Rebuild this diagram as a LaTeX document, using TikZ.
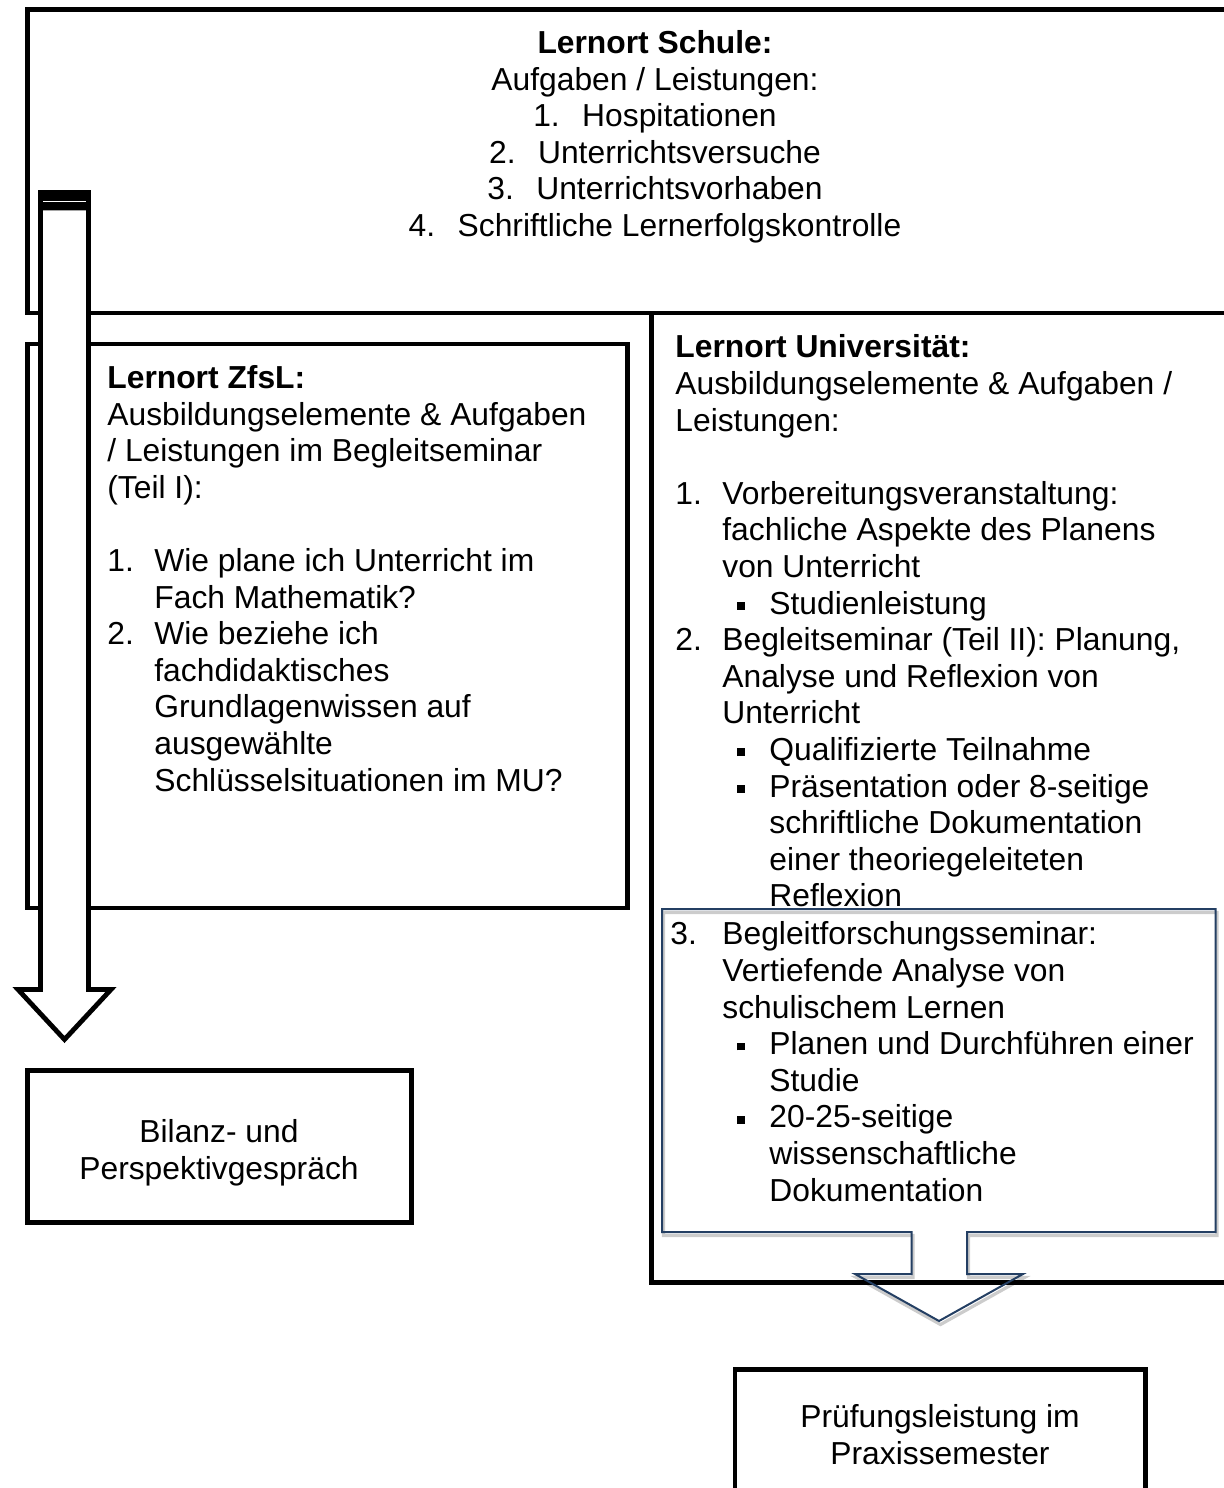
\documentclass[tikz,border=0pt]{standalone}
\usepackage{fontspec}
\setmainfont{Liberation Sans}
\usepackage{tikz}
\usetikzlibrary{arrows}
\definecolor{navy}{RGB}{36,63,99}
\tikzstyle{box} = [draw, line width=2.4pt]
\tikzstyle{blueline} = [draw=navy, line width=1pt]
\tikzstyle{shadowline} = [draw=black!20, line width=1.6pt]
\tikzstyle{txt} = [inner sep=0pt, align=left, anchor=north west]
\newcommand{\topstrut}{\rule{0pt}{12pt}}
\newcommand{\sqbullet}{\rule[2.2pt]{3.9pt}{3.9pt}}
\newcommand{\itemno}[2][23.5pt]{\makebox[#1][l]{#2}}
\newcommand{\itembul}[1][31pt]{\hspace*{#1}\makebox[16pt][l]{\sqbullet}}
\newcommand{\calloutshape}{(662,909) -- (1215.5,909) -- (1215.5,1232) -- (967,1232) -- (967,1274) -- (1023,1274) -- (939,1321) -- (855,1274) -- (911.5,1274) -- (911.5,1232) -- (662,1232) -- cycle}

\begin{document}
\begin{tikzpicture}[x=0.5pt,y=-0.5pt]
	\tikzstyle{every node}=[font=\fontsize{15.9}{18.3}\selectfont]
	\useasboundingbox (0,0) rectangle (1224,1488);

	% ------------------- Boxes ------------------- %
	\draw[box] (27.5,9.5) rectangle (1240,313);
	\draw[box] (27.5,344) rectangle (627.5,908);
	\draw[shadowline, shift={(1.5,3.5)}] \calloutshape;
	\draw[box] (651.5,313) rectangle (1240,1282.5);
	\draw[box] (27.5,1070.5) rectangle (411.5,1222.5);
	\draw[box] (735,1369.5) rectangle (1145.5,1500);
	\draw[blueline] \calloutshape;

	% ------------------- Big arrow ------------------- %
	\draw[box, fill=white] (40.5,208) -- (88.5,208) -- (88.5,989.5) -- (111,989.5) -- (64.5,1039.5) -- (18,989.5) -- (40.5,989.5) -- cycle;
	\fill (38,190) rectangle (91,210);
	\draw[white, line width=0.4pt] (43,201.5) -- (86,201.5);

	% ------------------- Texts ------------------- %
	\node[txt, anchor=north, align=center] (schule) at (655,29) {\topstrut\textbf{Lernort Schule:}\\
		Aufgaben / Leistungen:\\
		\itemno[24.5pt]{1.}Hospitationen\\
		\itemno[24.5pt]{2.}Unterrichtsversuche\\
		\itemno[24.5pt]{3.}Unterrichtsvorhaben\\
		\itemno[24.5pt]{4.}Schriftliche Lernerfolgskontrolle};

	\node[txt] (zfsl) at (107,364) {\topstrut\textbf{Lernort ZfsL:}\\
		Ausbildungselemente \& Aufgaben\\
		/ Leistungen im Begleitseminar\\
		(Teil I):\\[18.3pt]
		\itemno{1.}Wie plane ich Unterricht im\\
		\hspace*{23.5pt}Fach Mathematik?\\
		\itemno{2.}Wie beziehe ich\\
		\hspace*{23.5pt}fachdidaktisches\\
		\hspace*{23.5pt}Grundlagenwissen auf\\
		\hspace*{23.5pt}ausgewählte\\
		\hspace*{23.5pt}Schlüsselsituationen im MU?};

	\node[txt] (uni) at (675,333.5) {\topstrut\textbf{Lernort Universität:}\\
		Ausbildungselemente \& Aufgaben /\\
		Leistungen:\\[18.3pt]
		\itemno{1.}Vorbereitungsveranstaltung:\\
		\hspace*{23.5pt}fachliche Aspekte des Planens\\
		\hspace*{23.5pt}von Unterricht\\
		\itembul Studienleistung\\
		\itemno{2.}Begleitseminar (Teil II): Planung,\\
		\hspace*{23.5pt}Analyse und Reflexion von\\
		\hspace*{23.5pt}Unterricht\\
		\itembul Qualifizierte Teilnahme\\
		\itembul Präsentation oder 8-seitige\\
		\hspace*{47pt}schriftliche Dokumentation\\
		\hspace*{47pt}einer theoriegeleiteten\\
		\hspace*{47pt}Reflexion};

	\node[txt] (forschung) at (670,920.5) {\topstrut\itemno[26pt]{3.}Begleitforschungsseminar:\\
		\hspace*{26pt}Vertiefende Analyse von\\
		\hspace*{26pt}schulischem Lernen\\
		\itembul[33.5pt]Planen und Durchführen einer\\
		\hspace*{49.5pt}Studie\\
		\itembul[33.5pt]20-25-seitige\\
		\hspace*{49.5pt}wissenschaftliche\\
		\hspace*{49.5pt}Dokumentation};

	\node[txt, anchor=north, align=center] (bilanz) at (219,1118) {\topstrut Bilanz- und\\Perspektivgespräch};
	\node[txt, anchor=north, align=center] (pruefung) at (940,1403) {\topstrut Prüfungsleistung im\\Praxissemester};
\end{tikzpicture}
\end{document}
